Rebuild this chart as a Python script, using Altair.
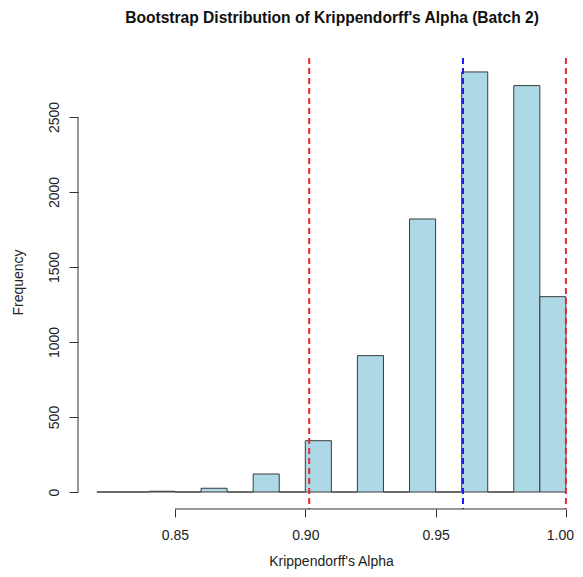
import altair as alt
import pandas as pd

# Histogram bins (left edges) and counts
bin_start = [0.82, 0.83, 0.84, 0.85, 0.86, 0.87, 0.88, 0.89, 0.90, 0.91,
             0.92, 0.93, 0.94, 0.95, 0.96, 0.97, 0.98, 0.99]
counts = [0, 0, 5, 0, 25, 0, 120, 0, 342, 0,
          909, 0, 1820, 0, 2800, 0, 2709, 1302]
bin_width = 0.01

# Reference lines
ci_lines = [0.9015, 1.0]
mean_line = [0.9605]

x_ticks = [0.85, 0.90, 0.95, 1.00]
y_ticks = [0, 500, 1000, 1500, 2000, 2500]

main_title = ["Bootstrap Distribution of Krippendorff's Alpha (Batch 2)"]

FONT = "Liberation Sans"

bars_df = pd.DataFrame({
    "start": bin_start,
    "end": [b + bin_width for b in bin_start],
    "count": counts,
    "base": [0] * len(counts),
})
ci_df = pd.DataFrame({"v": ci_lines})
mean_df = pd.DataFrame({"v": mean_line})
xaxis_df = pd.DataFrame({"a": [x_ticks[0]], "b": [x_ticks[-1]]})
yaxis_df = pd.DataFrame({"a": [y_ticks[0]], "b": [y_ticks[-1]]})
title_df = pd.DataFrame({"t": main_title})

W, H = 497, 454
x_scale = alt.Scale(domain=[0.81278, 1.00349], nice=False, zero=False)
y_scale = alt.Scale(domain=[-113.3, 2913], nice=False, zero=False)

x_axis = alt.Axis(
    values=x_ticks, format=".2f", domain=False, grid=False,
    tickSize=8, tickColor="#333", labelFont=FONT, labelFontSize=14,
    labelColor="#222", labelPadding=11, labelBaseline="top",
    labelOffset={"condition": {"test": "datum.value >= 0.999", "value": -6},
                 "value": 0},
    title="Krippendorff's Alpha", titleFont=FONT, titleFontSize=14,
    titleFontWeight="normal", titleColor="#222", titleX=253, titleY=56,
    titleAlign="center", titleBaseline="alphabetic", labelFlush=False,
)
y_axis = alt.Axis(
    values=y_ticks, format="d", domain=False, grid=False, tickSize=9,
    tickColor="#333", labelFont=FONT, labelFontSize=14, labelColor="#222",
    labelAngle=-90, labelAlign="center", labelBaseline="bottom",
    labelPadding=8, title="Frequency", titleFont=FONT, titleFontSize=14,
    titleFontWeight="normal", titleColor="#222", titleAngle=-90,
    titleX=-60, titleY=227, titleAlign="center", titleBaseline="middle",
    labelFlush=False,
)

bars = alt.Chart(bars_df).mark_rect(
    fill="#ADD8E6", stroke="#3a3a3a", strokeWidth=1
).encode(
    x=alt.X("start:Q", scale=x_scale, axis=x_axis),
    x2="end:Q",
    y=alt.Y("count:Q", scale=y_scale, axis=y_axis),
    y2="base:Q",
)

ci = alt.Chart(ci_df).mark_rule(
    color="#e8282b", strokeWidth=2, strokeDash=[6, 4]
).encode(x=alt.X("v:Q", scale=x_scale), y=alt.value(3), y2=alt.value(H))

mean = alt.Chart(mean_df).mark_rule(
    color="#1a1ae6", strokeWidth=2, strokeDash=[6, 4]
).encode(x=alt.X("v:Q", scale=x_scale), y=alt.value(3), y2=alt.value(H))

xline = alt.Chart(xaxis_df).mark_rule(color="#333", strokeWidth=1).encode(
    x=alt.X("a:Q", scale=x_scale), x2="b:Q", y=alt.value(H)
)
yline = alt.Chart(yaxis_df).mark_rule(color="#333", strokeWidth=1).encode(
    y=alt.Y("a:Q", scale=y_scale), y2="b:Q", x=alt.value(0)
)

title = alt.Chart(title_df).mark_text(
    font=FONT, fontSize=15.6, fontWeight="bold", color="#111",
    align="center", baseline="alphabetic",
).encode(text="t:N", x=alt.value(254), y=alt.value(-32))

chart = alt.layer(bars, ci, mean, xline, yline, title).properties(
    width=W, height=H,
    autosize=alt.AutoSizeParams(type="none"),
    padding={"left": 70, "top": 47, "right": 0, "bottom": 60},
).configure_view(stroke=None)

chart.save("out.html", embed_options={"renderer": "svg", "actions": False})
